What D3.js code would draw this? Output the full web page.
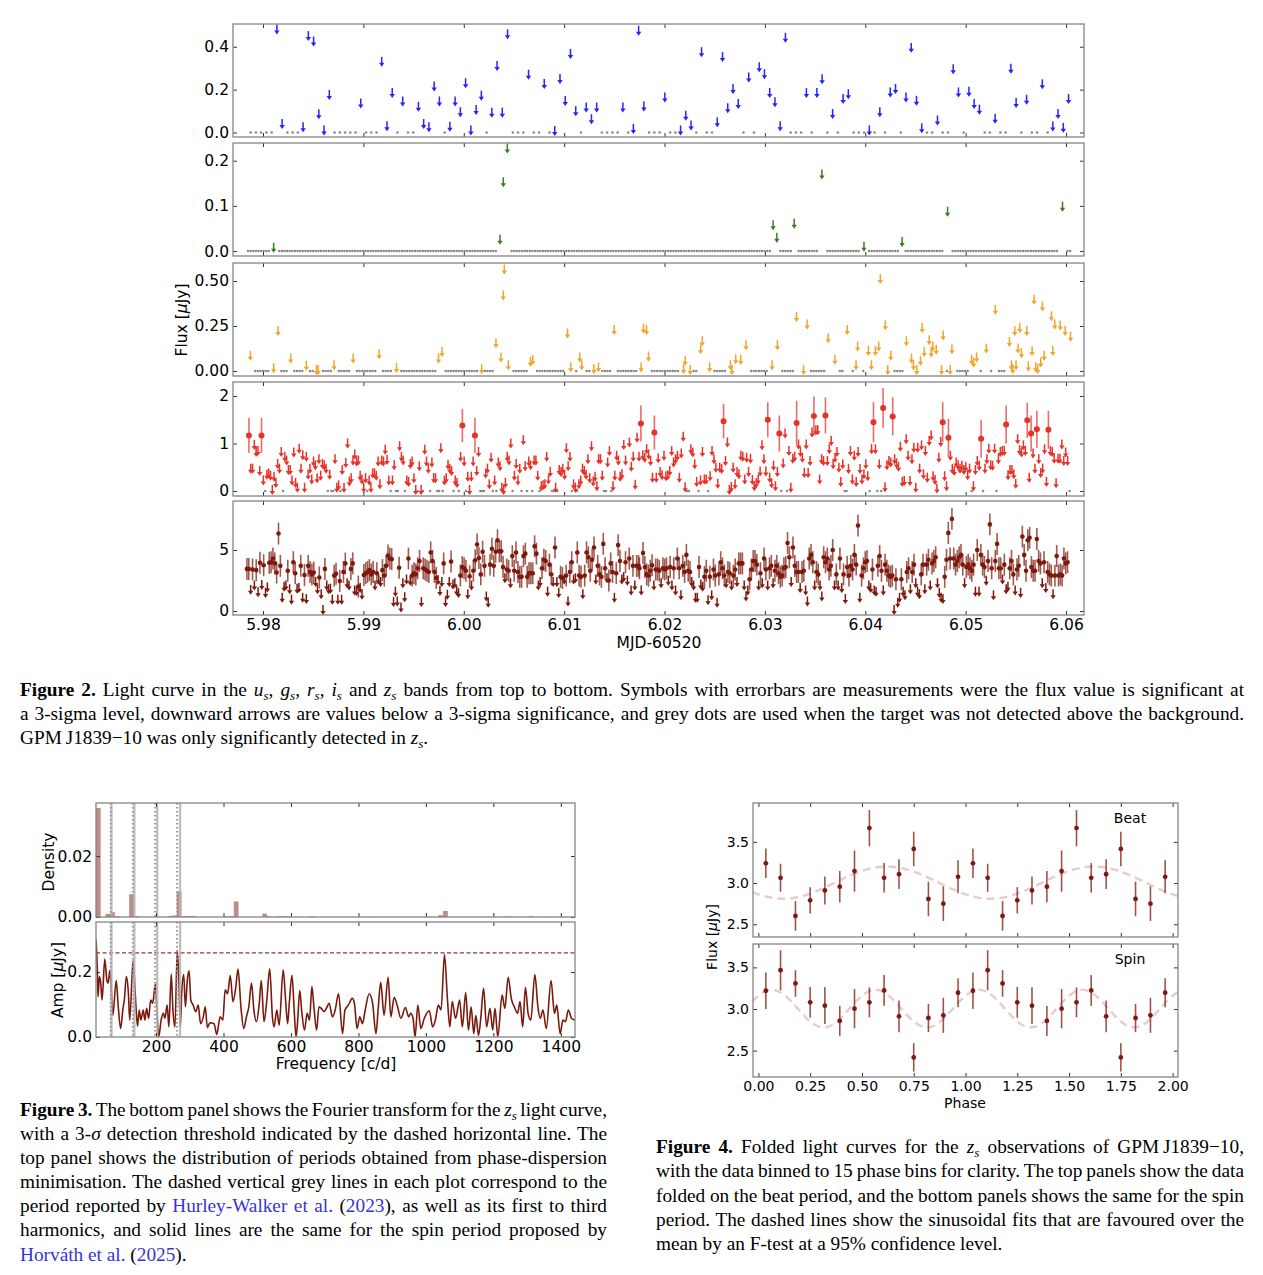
<!DOCTYPE html>
<html>
<head>
<meta charset="utf-8">
<script src="https://cdn.jsdelivr.net/npm/d3@7"></script>
<style>
  body { margin: 0; background: #fff; width: 1263px; height: 1275px; position: relative; overflow: hidden; }
  svg { position: absolute; left: 0; top: 0; }
  .cap { position: absolute; font-family: "Liberation Serif", "Times New Roman", serif; font-size: 19.3px;
         line-height: 24px; white-space: nowrap; color: #000; }
  .cap sub { font-size: 68%; vertical-align: -0.28em; line-height: 0; }
  .lk { color: #3434d6; }
</style>
</head>
<body>
<svg id="fig" width="1263" height="1275"></svg>
<script>
// ---------------- data: Figure 2 light curves ----------------
// sequence bands: one char per exposure ('.' not detected, 'v' 3-sigma upper limit, 'o' detection)
var uSpan = [5.97877, 6.06025];
var uKind = ".....vv..." + "vvvvvv...." + ".v...vvv.v" + "..vvvvv.vv" + "vvvvv.vvvv" +
            "...v..v.vv" + "vvv.vvv..." + ".v.vvv...v" + "..vvv.v..v" + "vvvv.v.vvv" +
            "vvv...v.vv" + ".v.vv...v." + "v.vv.vvvv." + ".v..vv.vvv" + "..v..vv.v." + ".v.vvvv";
var uFlux = [.476,.035, .02,.445,.42,.08,.005,.17, .13, .325,.025,.18, .14, .115,.035,.02,.21,.14,
  .022,.14, .09,.225,.005,.10,.167, .088,.305,.088,.453, .265, .222, .002,.245, .142,.362,.095,
  .112,.057,.112, .112, .012,.47,.117, .159, .005,.074,.028, .37, .043,.347,.108,.198,.128,
  .252, .30,.267,.18,.136,.025,.437, .179, .179,.244, .082, .151,.174, .005, .09, .182,.198,
  .159,.39,.143,.015, .051, .29,.182, .185,.128,.102, .059, .293,.133, .148, .22, .023,.082,.017,.151];

// g_s and r_s: upper limits with their times, grey dots on the exposure grid [start, end, step]
var gGrid = [5.9785, 6.0603, 0.00026];
var gLimT = [5.98106, 6.00361, 6.00394, 6.00434, 6.03082, 6.03119, 6.03292, 6.03568, 6.03987, 6.04367, 6.04820, 6.05965];
var gLimV = [.005, .023, .150, .225, .055, .027, .058, .167, .007, .018, .085, .096];

var rGrid = [5.97844, 6.0604, 0.00026];
var rLimT = [5.97874, 5.98106, 5.98150, 5.98276, 5.98432, 5.98532, 5.98549, 5.98708, 5.98898, 5.99157,
  5.99330, 5.99749, 5.99783, 6.00178, 6.00321, 6.00371, 6.00394, 6.00404, 6.00444, 6.00664,
  6.00687, 6.01033, 6.01066, 6.01156, 6.01176, 6.01296, 6.01342, 6.01499, 6.01767, 6.01790,
  6.01820, 6.01840, 6.02190, 6.02206, 6.02256, 6.02360, 6.02376, 6.02449, 6.02656, 6.02672,
  6.02709, 6.02759, 6.02812, 6.03072, 6.03125, 6.03315, 6.03385, 6.03421, 6.03631, 6.03698,
  6.03821, 6.03908, 6.03924, 6.04031, 6.04061, 6.04101, 6.04134, 6.04150, 6.04200, 6.04224,
  6.04254, 6.04410, 6.04460, 6.04480, 6.04513, 6.04550, 6.04567, 6.04587, 6.04637, 6.04657,
  6.04673, 6.04707, 6.04760, 6.04776, 6.04846, 6.04863, 6.05059, 6.05079, 6.05109, 6.05206,
  6.05296, 6.05436, 6.05456, 6.05469, 6.05489, 6.05502, 6.05522, 6.05539, 6.05555, 6.05609,
  6.05625, 6.05662, 6.05682, 6.05698, 6.05718, 6.05748, 6.05765, 6.05782, 6.05855, 6.05868,
  6.05888, 6.05942, 6.05991, 6.06045];
var rLimV = [.079, .010, .216, .064, .024, .000, .000, .027, .064, .088,
  .011, .064, .100, .005, .148, .070, .414, .559, .027, .046,
  .055, .203, .015, .070, .027, .005, .015, .222, .015, .230,
  .222, .075, .005, .051, .000, .115, .160, .015, .027, .000,
  .060, .055, .137, .027, .137, .295, .000, .253, .176, .057,
  .222, .027, .130, .106, .027, .106, .130, .505, .249, .000,
  .079, .160, .064, .027, .000, .051, .234, .100, .165, .097,
  .130, .112, .000, .192, .000, .115, .057, .042, .070, .119,
  .335, .156, .027, .005, .216, .027, .119, .234, .093, .216,
  .020, .106, .390, .015, .005, .042, .353, .079, .299, .106,
  .253, .247, .216, .185];

// i_s: two stretches read separately
var iSpanA = [5.97860, 6.01612];
var iKindA = "ovvvvvvov." + "vvvvvvvvv." + "vvvvvvvvvv" + "vvvvvvvvvv" + "vvvv.v..vv" +
             "v.vvvvvvvv" + "vvvvvv.vvv" + "vvvvvvvvv." + "vv..vvv.vv" + "vvvv.vv.vv" +
             "v.vvv..v.v" + "vvvv.vv.vo" + "v.vvvvovv." + "..vvvv.v.v" + "vvvvvvv.vv" +
             "vv.vv.vv.v" + "vv.vvvvvv." + ".v.vvvvvvv" + ".vv.vvvvvv" + "vvvvvvvv.." +
             "vv.vvvvvvv" + "v";
var iFluxA = [1.17,.45,.45,.95,.80,.82,.40,1.17,.20, .32,.35,.30,.00,.28,.15,.55,.45,.80,
  .70,.62,.42,.42,.20,.79,.15,.05,.87,.45, .73,.05,.70,.32,.45,.22,.60,.52,.25,.65,
  .30,.55,.52,.45,.32,.65,.05, .10,.42,.05,.57,.98,.18,.25,.62,.75, .60,.62,.30,.22,.05,.25,.20,.05,.35,
  .35,.30,.60,.12,.62,.60,.85,.63,.20, .20,.52,.92,.70,.62,.20,.17, .55,.60,.25,.00,.50,.00,.85,.60,
  .45,.58,.25,.25,.88,.20, .25,.53,.45,.40,.20,.15,.70,1.38, .60,.28,.00,.28,.60,1.17,.40,.80,
  .35,.45,.12,.68,.20,.58, .50,.05,.00,.15,.70,.62,.98,.30,.55, .20,.45,1.05,.50,.60,.52,.62,
  .62,.30,.08,.10,.12,.70,.22,.38, .05,.42,.38,.45,.32,.88,.50,.70, .12,.05,.12,.20,.45,.40,.32,.65,
  .25,.92,.18,.28,.08,.65,.65,.30, .58,.82,.08,.30,.72,.62,.28,.33,.95, .62];
var iErrA = [.37, .37, .35, .37];

var iSpanB = [6.01650, 6.06035];
var iKindB = "vvvvvvovvv" + "vvvovvvvvv" + "vvvvvvvvvv" + "..vvvv.vvv" + "v.vvvvvvvo" +
             "vvvvvvvvvv" + "vvvvvvvvvv" + "vvovvvvvo." + "vv.vvvvovv" + "vvvvvvovvv" +
             "vvovvvvvvv" + "vv..vvvvvv" + "vvvvv.vov." + "v.ovvvvovv" + "vvvvvvvvvv" +
             "vvvvvvvvvv" + "vvvovvovvv" + "vvvvvvvv.v" + "vvvo.vvvvv" + "v.vvvvovvv" +
             "vvvvvvvovo" + "vvovvvvvov" + "vvvvvvvvv.";
var iFluxB = [1.00,.49,.70,.11,1.10,.70,1.42,.73,.68,.86, .75,.61,.26,1.23,.26,.67,.38,.31,.72,.29,
  .31,.40,.82,.58,.65,.72,.26,.77,1.12,.06, .86,.79,.54,.17,.20,.80,.22, .22,.29,.82,.65,.47,.13,.47,.44,1.47,
  .61,1.00,.00,.06,.47,.12,.38,.33,.72,.70, .22,.68,.38,.66,.21,.08,.14,.22,.39,.94,
  .65,.39,1.50,.26,.14,.51,.08,.38,1.21, .56,1.19,.82,.05,.66,.70,1.43,.96,.80,
  .68,.36,.96,.36,.61,1.21,1.58,1.26,1.26,.22, .65,.61,1.59,.61,.86,1.03,.54,.68,.80,.47,
  .17,.54,.44,.82,.22,.72,.17,.80, .44,.22,.33,.54,.29,.86,1.45,.86, .54,1.75,.06,.52,.61,.58,1.57,.65,.56,
  .49,.91,.17,.19,1.07,.72,.19,.65,.89,.05, .89,.45,.94,.33,.82,.26,1.03,1.15,.29,.21,
  .03,.68,1.01,1.45,.29,.08,1.12,.72,.44,.40, .58,.52,.45,.51,.42,.49,.31,.45,.08,
  .42,.61,.51,1.10,.45,.65,.87,.52,.51, .87,.65,.80,.82,.82,1.40,.31,.42,.42,
  .33,.13,1.07,.84,.79,.94,.82,1.49,.26,1.21, .77,.45,1.30,.65,.36,.45,.86,.17,1.29,.82,
  .80,.66,.14,.66,.66,.96,.61,.79,.61];
var iErrB = [.38, .36, .36, .37, .38, .47, .41, .38, .42, .42, .40, .42, .40, .40, .40, .37, .38, .39, .40];

// z_s: two stretches read separately, typical 1-sigma error
var zErr = 0.9;
var zSpanA = [5.97840, 6.01741];
var zKindA = "oovovovovo" + "vvooooooov" + "vvovvoovvo" + "vovoooovvo" + "vvovvvvoov" +
             "ovoovvoovv" + "ovvoooooov" + "ovvoooooov" + "vvovvvvovo" + "oooovooooo" +
             "ooovvvovvv" + "ovvvvoooov" + "ovooooooov" + "voooooooov" + "oovooooooo" +
             "ooooooovvo" + "oovoovovvo" + "ovovoovvoo" + "ovoooooovo" + "oooovooovo" +
             "oovvovovov" + "oo";
var zFluxA = [3.45,3.45,1.65,3.4,2.0,3.35,1.45,3.95,2.05,3.75, 1.4,1.85,3.95,4.0,4.3,3.9,3.15,6.35,3.7,1.0,
  1.9,2.0,3.3,1.7,0.85,4.0,3.1,1.75,1.8,3.7, 1.0,2.95,0.9,3.7,3.2,3.0,3.15,2.3,1.7,2.75,
  1.3,0.0,3.45,2.0,1.7,1.75,0.85,2.9,3.05,0.85, 2.45,0.85,3.2,3.9,2.2,2.0,3.45,3.9,1.6,1.55,
  2.0,1.8,1.25,2.95,3.1,3.2,3.35,3.0,3.2,2.0, 3.1,2.5,2.3,3.35,2.9,3.7,4.55,4.3,4.25,0.65,
  1.5,0.7,3.55,0.2,2.2,1.05,2.5,4.3,2.4,2.9, 3.1,3.0,3.5,4.1,0.65,3.5,3.4,3.3,3.2,4.8,
  4.1,3.2,2.7,2.45,1.55,2.3,3.9,0.65,1.25,2.3, 4.05,2.1,2.2,1.6,1.4,2.9,3.6,3.5,3.3,1.3,
  2.85,2.0,3.3,4.15,5.45,4.35,3.0,4.85,3.7,1.1, 0.6,3.8,5.1,3.7,4.85,5.8,4.9,4.9,3.6,2.6,
  3.4,3.3,2.2,4.5,3.3,4.8,3.2,2.8,2.8,4.5, 4.7,2.8,3.1,3.1,3.1,5.3,4.7,2.0,2.3,3.5,
  4.2,4.1,1.5,3.8,3.0,2.3,5.2,2.3,1.4,2.8, 2.7,2.5,2.9,0.7,3.2,4.0,2.5,2.6,4.8,2.9,
  2.8,1.3,2.9,4.8,4.4,3.3,4.2,5.2,2.5,3.7, 3.0,2.8,5.5,3.5,2.6,2.5,3.9,3.2,1.0,3.1,
  5.4,4.1,2.5,2.7,4.0,2.4,4.3,1.6,3.7,2.0, 3.7,3.7];

var zSpanB = [6.01750, 6.06015];
var zKindB = "ovoooooovo" + "oovooovovo" + "voovooooov" + "vvvovvoovo" + "voovoooovo" +
             "ovoovooovv" + "vooooovovo" + "ovoovooooo" + "oooovoooov" + "oovvooovoo" +
             "vvoooooovo" + "vovovooooo" + "oovoooovvo" + "vvooovoooo" + "ovovvovvoo" +
             "voovvvoovo" + "ovooovvvvo" + "oooooooooo" + "vooooovovo" + "oovooovooo" +
             "ovovvooovo" + "ovoooooooo" + "ooovovooov" + "oooooooo";
var zFluxB = [3.5,1.6,4.75,3.6,3.0,2.9,3.3,3.75,2.0,3.4, 3.4,3.3,2.2,3.5,3.4,3.5,2.4,3.6,2.0,3.5,
  1.6,4.3,3.5,1.2,3.7,3.2,4.6,3.3,3.2,2.3, 2.0,1.0,1.0,3.6,2.1,1.9,2.8,3.3,0.8,2.8,
  1.2,3.4,2.9,0.6,3.0,4.0,3.5,2.9,2.2,3.2, 3.1,2.0,2.9,3.4,2.3,3.9,3.9,3.9,2.0,1.1,
  1.6,2.6,3.4,4.1,4.1,3.8,2.0,3.1,2.2,4.3, 3.4,2.0,3.5,3.7,2.2,3.3,3.7,3.1,2.8,2.9,
  3.5,3.6,5.57,4.4,2.3,5.2,3.7,3.2,3.2,1.8, 3.2,3.3,1.6,0.7,4.3,4.6,4.0,2.0,3.2,3.0,
  2.0,1.1,4.4,4.0,4.3,3.4,3.7,5.0,2.0,3.0, 2.0,4.3,1.8,3.0,0.9,3.6,2.9,3.7,3.4,4.6,
  3.8,7.0,1.0,2.9,3.5,4.0,4.1,2.0,1.8,3.4, 1.6,1.5,3.7,4.5,3.3,1.6,3.8,3.3,2.9,2.8,
  2.9,0.0,2.6,0.6,1.0,2.6,1.5,1.2,3.2,3.5, 1.7,3.2,3.8,2.2,1.5,1.3,3.0,3.8,1.7,3.8,
  4.2,2.0,3.9,4.1,4.4,2.2,1.4,1.0,0.9,2.8, 4.2,6.4,4.3,7.55,4.3,3.8,4.1,4.4,4.6,3.8,
  2.2,3.6,3.8,3.5,3.3,3.8,1.5,5.0,1.5,4.6, 3.8,3.6,2.4,4.1,7.1,3.5,1.2,4.1,5.5,3.5,
  3.5,2.5,3.8,1.7,1.9,3.5,4.1,3.0,1.6,3.4, 3.7,1.4,6.1,4.6,3.3,5.8,6.0,3.6,3.3,3.3,
  5.9,4.1,3.9,2.2,4.0,1.8,3.2,3.0,2.9,1.3, 2.9,4.5,2.9,3.0,2.9,4.3,3.9,4.0];

var lcTicks = [5.98, 5.99, 6.00, 6.01, 6.02, 6.03, 6.04, 6.05, 6.06];

// ---------------- data: Figure 3 ----------------
var pdmStart = 21.6, pdmWidth = 14.1;   // histogram bins [c/d]
var pdmDensity = [
  .0358, 0, .0010, .0016, .0003, 0, 0, .0075, .0003, 0,
  0, 0, 0, 0, 0, .0003, .0005, .0084, .0003, .0003,
  .0003, 0, 0, 0, 0, 0, 0, .0002, .0003, .0051,
  0, 0, 0, 0, 0, .0011, .0002, 0, .0002, .0002,
  .0002, 0, 0, 0, 0, .0002, 0, 0, 0, 0,
  0, 0, 0, 0, 0, 0, 0, .0001, 0, 0,
  0, 0, 0, 0, 0, 0, 0, 0, 0, 0,
  0, 0, .0006, .0020, 0, 0, 0, 0, 0, 0,
  0, 0, 0, 0, 0, 0, .0002, .0001, 0, 0,
  0, .0003, 0, 0, 0, .0001, 0, 0, 0, 0, 0];
var specFreq = [22,26,28,32,36,40,48,54,58,63, 68,72,82,88,95,102,106,112,118,122,
  132,138,145,150,155,162,167,172,178,184, 190,198,203,208,215,222,226,233,238,245,
  250,256,263,268,272,276,282,287,293,298, 303,310,318,325,332,340,346,352,360,372,
  380,390,398,405,412,420,428,436,443,452, 460,468,475,483,490,498,506,512,520,528,
  537,545,550,558,565,577,584,590,595,603, 610,615,620,626,632,640,648,655,662,668,
  676,683,690,698,705,713,723,731,741,753, 760,770,782,788,796,804,812,820,832,842,
  852,859,866,876,888,896,906,916,926,939, 949,955,962,968,976,985,995,1010,1020,1028,
  1037,1045,1055,1064,1071,1078,1088,1100,1108,1118, 1126,1134,1142,1148,1156,1163,1171,1180,1190,1198,
  1205,1213,1226,1234,1244,1253,1262,1272,1279,1287, 1295,1303,1311,1323,1332,1339,1347,1357,1371,1381,
  1388,1398,1406,1414,1422,1432,1442];
var specAmp = [.300,.207,.124,.186,.166,.114,.240,.176,.166,.205, .135,.067,.174,.093,.026,.088,.114,.186,.135,.052,
  .236,.140,.033,.083,.052,.083,.052,.088,.057,.114, .104,.163,.073,.000,.052,.073,.057,.098,.031,.194,
  .083,.031,.267,.166,.031,.135,.192,.093,.178,.204, .114,.098,.078,.098,.041,.062,.093,.029,.044,.041,
  .008,.062,.052,.145,.133,.189,.109,.150,.209,.088, .026,.062,.093,.166,.083,.047,.104,.174,.047,.109,
  .210,.062,.031,.083,.036,.207,.114,.041,.104,.190, .073,.000,.052,.143,.078,.021,.073,.052,.155,.093,
  .021,.093,.088,.078,.088,.104,.062,.083,.133,.010, .083,.098,.119,.104,.026,.062,.041,.083,.133,.104,
  .010,.093,.168,.067,.184,.062,.122,.093,.057,.091, .062,.073,.057,.000,.098,.026,.057,.081,.031,.052,
  .098,.083,.254,.114,.031,.109,.057,.114,.031,.137, .021,.093,.010,.067,.005,.062,.150,.031,.088,.021,
  .088,.000,.129,.088,.184,.119,.093,.073,.109,.031, .153,.073,.052,.192,.093,.057,.083,.026,.174,.073,
  .098,.010,.052,.047,.083,.057,.052];
var specThreshold = 0.259;
var hwFreqs = [65.6, 131.1, 196.7, 262.2];     // Hurley-Walker et al. (2023) and harmonics
var spinFreqs = [67.8, 135.6, 203.4, 271.2];   // Horvath et al. (2025) and harmonics

// ---------------- data: Figure 4 ----------------
var foldPhase = [0.036, 0.107, 0.179, 0.250, 0.321, 0.393, 0.464, 0.536, 0.607, 0.679, 0.750, 0.821, 0.893, 0.964];
var beatFlux = [3.24, 3.064, 2.60, 2.79, 2.91, 2.956, 3.145, 3.667, 3.064, 3.108, 3.414, 2.807, 2.75, 3.076];
var beatErr  = [0.18, 0.17, 0.18, 0.16, 0.17, 0.19, 0.25, 0.22, 0.18, 0.18, 0.21, 0.21, 0.21, 0.20];
var spinFlux = [3.219, 3.466, 3.307, 3.08, 3.04, 2.857, 3.004, 3.08, 3.223, 2.912, 2.418, 2.892, 2.924, 3.195];
var spinErr  = [0.22, 0.24, 0.16, 0.185, 0.22, 0.18, 0.235, 0.18, 0.185, 0.19, 0.17, 0.17, 0.21, 0.175];
var beatFit = { mean: 3.005, amp: 0.195, peak: 0.62, harm: 1 };
var spinFit = { mean: 3.005, amp: 0.225, peak: 0.065, harm: 2 };

// ---------------- drawing ----------------
var FONT = "DejaVu Sans, sans-serif";
var svg = d3.select("#fig");

function makePanel(xs, ys, xDom, yDom) {
  var p = {};
  p.box = [xs[0], xs[1], ys[0], ys[1]];
  p.x = d3.scaleLinear().domain(xDom).range(xs);
  p.y = d3.scaleLinear().domain(yDom).range([ys[1], ys[0]]);
  p.g = svg.append("g");
  var id = "clip" + Math.round(xs[0]) + "_" + Math.round(ys[0]);
  svg.append("clipPath").attr("id", id).append("rect")
    .attr("x", xs[0]).attr("y", ys[0]).attr("width", xs[1] - xs[0]).attr("height", ys[1] - ys[0]);
  p.clip = "url(#" + id + ")";
  return p;
}

function tidy(a, fs, keepText) {
  a.select(".domain").remove();
  a.selectAll(".tick line").attr("stroke", "#333").attr("stroke-width", 1);
  if (keepText) a.selectAll(".tick text").attr("font-family", FONT).attr("font-size", fs).attr("fill", "#000");
  else a.selectAll(".tick text").remove();
}

function frame(p, o) {
  var b = p.box, g = p.g.append("g");
  tidy(g.append("g").attr("transform", "translate(" + b[0] + ",0)")
    .call(d3.axisLeft(p.y).tickValues(o.yTicks).tickFormat(d3.format(o.yFmt)).tickSize(-4).tickPadding(4)), o.fs, true);
  tidy(g.append("g").attr("transform", "translate(" + b[1] + ",0)")
    .call(d3.axisRight(p.y).tickValues(o.yTicks).tickSize(-4)), o.fs, false);
  tidy(g.append("g").attr("transform", "translate(0," + b[2] + ")")
    .call(d3.axisTop(p.x).tickValues(o.xTicks).tickSize(-4)), o.fs, false);
  tidy(g.append("g").attr("transform", "translate(0," + b[3] + ")")
    .call(d3.axisBottom(p.x).tickValues(o.xTicks).tickFormat(d3.format(o.xFmt || ".2f")).tickSize(-4).tickPadding(4)),
    o.fs, !!o.xLabels);
  g.append("rect").attr("x", b[0]).attr("y", b[2]).attr("width", b[1] - b[0]).attr("height", b[3] - b[2])
    .attr("fill", "none").attr("stroke", "#858585").attr("stroke-width", 1.3);
}

function label(x, y, txt, fs, rot, italicMu) {
  var t = svg.append("text").attr("font-family", FONT).attr("font-size", fs).attr("fill", "#000")
    .attr("text-anchor", "middle").attr("dominant-baseline", "central")
    .attr("transform", "translate(" + x + "," + y + ")" + (rot ? " rotate(-90)" : ""));
  if (italicMu) {
    var parts = txt.split("μ");
    t.append("tspan").text(parts[0]);
    t.append("tspan").attr("font-style", "italic").text("μ");
    t.append("tspan").text(parts[1]);
  } else t.text(txt);
  return t;
}

function expandSeq(kind, flux, errs, span) {
  var pts = [], k = 0, j = 0, n = kind.length;
  for (var i = 0; i < n; i++) {
    var t = span[0] + (span[1] - span[0]) * i / (n - 1), c = kind[i];
    if (c === "." || k >= flux.length) { pts.push({ t: t, v: 0, kind: "nd" }); continue; }
    var v = flux[k++];
    if (c === "v") pts.push({ t: t, v: v, kind: "lim" });
    else pts.push({ t: t, v: v, e: Array.isArray(errs) ? errs[j++] : errs, kind: "det" });
  }
  return pts;
}

function expandSparse(limT, limV, grid) {
  var pts = limT.map(function (t, i) { return { t: t, v: limV[i], kind: "lim" }; });
  var n = Math.round((grid[1] - grid[0]) / grid[2]) + 1;
  for (var i = 0; i < n; i++) {
    var t = grid[0] + i * grid[2];
    if (!limT.some(function (s) { return Math.abs(s - t) < 1.2 * grid[2]; })) pts.push({ t: t, v: 0, kind: "nd" });
  }
  return pts;
}

var lcBands = [
  { pts: expandSeq(uKind, uFlux, 0, uSpan), color: "#2424ff", ys: [24, 137], yDom: [-0.021, 0.506], ticks: [0, 0.2, 0.4], fmt: ".1f", r: 2.3 },
  { pts: expandSparse(gLimT, gLimV, gGrid), color: "#3a7d1f", ys: [143, 256], yDom: [-0.011, 0.2392], ticks: [0, 0.1, 0.2], fmt: ".1f", r: 2.3 },
  { pts: expandSparse(rLimT, rLimV, rGrid), color: "#f2a42c", ys: [263, 376], yDom: [-0.0278, 0.6], ticks: [0, 0.25, 0.5], fmt: ".2f", r: 2.3 },
  { pts: expandSeq(iKindA, iFluxA, iErrA, iSpanA).concat(expandSeq(iKindB, iFluxB, iErrB, iSpanB)),
    color: "#e5332a", ys: [382, 496], yDom: [-0.105, 2.295], ticks: [0, 1, 2], fmt: "d", r: 3.0 },
  { pts: expandSeq(zKindA, zFluxA, zErr, zSpanA).concat(expandSeq(zKindB, zFluxB, zErr, zSpanB)),
    color: "#7d1a0d", ys: [501, 615], yDom: [-0.328, 9.016], ticks: [0, 5], fmt: "d", r: 2.3 }
];

lcBands.forEach(function (b, bi) {
  var p = makePanel([233, 1084], b.ys, [5.97701, 6.06179], b.yDom);
  var d = p.g.append("g").attr("clip-path", p.clip);
  var nd = b.pts.filter(function (q) { return q.kind === "nd"; });
  var lim = b.pts.filter(function (q) { return q.kind === "lim"; });
  var det = b.pts.filter(function (q) { return q.kind === "det"; });
  d.selectAll("circle.nd").data(nd).enter().append("circle").attr("class", "nd")
    .attr("cx", function (q) { return p.x(q.t); }).attr("cy", function (q) { return p.y(0); })
    .attr("r", 1.25).attr("fill", "#878787");
  d.selectAll("path.lim").data(lim).enter().append("path").attr("class", "lim")
    .attr("d", function (q) {
      var x = p.x(q.t), y = p.y(q.v);
      return "M" + x + "," + (y - 6) + "V" + (y + 1);
    })
    .attr("stroke", b.color).attr("stroke-width", 1.5).attr("fill", "none");
  d.selectAll("path.head").data(lim).enter().append("path").attr("class", "head")
    .attr("d", function (q) {
      var x = p.x(q.t), y = p.y(q.v);
      return "M" + (x - 2.7) + "," + y + "L" + (x + 2.7) + "," + y + "L" + x + "," + (y + 4) + "Z";
    })
    .attr("fill", b.color);
  d.selectAll("line.err").data(det).enter().append("line").attr("class", "err")
    .attr("x1", function (q) { return p.x(q.t); }).attr("x2", function (q) { return p.x(q.t); })
    .attr("y1", function (q) { return p.y(q.v - q.e); }).attr("y2", function (q) { return p.y(q.v + q.e); })
    .attr("stroke", b.color).attr("stroke-opacity", 0.72).attr("stroke-width", 1.6);
  d.selectAll("circle.det").data(det).enter().append("circle").attr("class", "det")
    .attr("cx", function (q) { return p.x(q.t); }).attr("cy", function (q) { return p.y(q.v); })
    .attr("r", b.r).attr("fill", b.color);
  frame(p, { xTicks: lcTicks, yTicks: b.ticks, yFmt: b.fmt, xFmt: ".2f", xLabels: bi === lcBands.length - 1, fs: 15.5 });
});
label(182, 320, "Flux [μJy]", 15.5, true, true);
label(659, 643, "MJD-60520", 15.5, false);

// Figure 3
var f3Top = makePanel([96, 575], [803, 917], [22, 1442], [0, 0.0374]);
var f3Bot = makePanel([96, 575], [922, 1037], [22, 1442], [0, 0.354]);
var f3Ticks = [200, 400, 600, 800, 1000, 1200, 1400];
var hg = f3Top.g.append("g").attr("clip-path", f3Top.clip);
hg.selectAll("rect").data(pdmDensity.map(function (v, i) { return { f0: pdmStart + i * pdmWidth, v: v }; })
    .filter(function (b) { return b.v > 0; }))
  .enter().append("rect")
  .attr("x", function (b) { return f3Top.x(b.f0); })
  .attr("width", function (b) { return f3Top.x(b.f0 + pdmWidth) - f3Top.x(b.f0); })
  .attr("y", function (b) { return f3Top.y(b.v); })
  .attr("height", function (b) { return f3Top.y(0) - f3Top.y(b.v); })
  .attr("fill", "#7f1a10").attr("fill-opacity", 0.5);
var sg = f3Bot.g.append("g").attr("clip-path", f3Bot.clip);
sg.append("path").datum(d3.zip(specFreq, specAmp))
  .attr("d", d3.line().x(function (d) { return f3Bot.x(d[0]); }).y(function (d) { return f3Bot.y(d[1]); }).curve(d3.curveMonotoneX))
  .attr("fill", "none").attr("stroke", "#7a1a0c").attr("stroke-width", 1.6);
sg.append("line").attr("x1", 96).attr("x2", 575).attr("y1", f3Bot.y(specThreshold)).attr("y2", f3Bot.y(specThreshold))
  .attr("stroke", "#9a3030").attr("stroke-width", 1.2).attr("stroke-dasharray", "4,2.5");
[f3Top, f3Bot].forEach(function (p) {
  p.g.selectAll("line.spin").data(spinFreqs).enter().append("line").attr("class", "spin")
    .attr("x1", function (f) { return p.x(f); }).attr("x2", function (f) { return p.x(f); })
    .attr("y1", p.box[2]).attr("y2", p.box[3]).attr("stroke", "#b4b4b4").attr("stroke-width", 2.4).attr("stroke-opacity", 0.85);
  p.g.selectAll("line.hw").data(hwFreqs).enter().append("line").attr("class", "hw")
    .attr("x1", function (f) { return p.x(f); }).attr("x2", function (f) { return p.x(f); })
    .attr("y1", p.box[2]).attr("y2", p.box[3]).attr("stroke", "#9a9a9a").attr("stroke-width", 2).attr("stroke-dasharray", "1.6,2.4");
});
frame(f3Top, { xTicks: f3Ticks, yTicks: [0, 0.02], yFmt: ".2f", xLabels: false, fs: 15.5 });
frame(f3Bot, { xTicks: f3Ticks, yTicks: [0, 0.2], yFmt: ".1f", xFmt: "d", xLabels: true, fs: 15.5 });
label(49, 862, "Density", 15.5, true);
label(58, 980, "Amp [μJy]", 15.5, true, true);
label(336, 1064, "Frequency [c/d]", 15.5, false);

// Figure 4
var f4Top = makePanel([753, 1178], [803, 937], [-0.026, 2.026], [2.345, 3.972]);
var f4Bot = makePanel([753, 1178], [944, 1077], [-0.026, 2.026], [2.183, 3.781]);
var f4Ticks = [0, 0.25, 0.5, 0.75, 1.0, 1.25, 1.5, 1.75, 2.0];
function foldPanel(p, flux, err, fit, name) {
  var d = p.g.append("g").attr("clip-path", p.clip);
  var grid = d3.range(-0.03, 2.035, 0.005);
  d.append("path").datum(grid)
    .attr("d", d3.line().x(function (ph) { return p.x(ph); })
      .y(function (ph) { return p.y(fit.mean + fit.amp * Math.cos(2 * Math.PI * fit.harm * (ph - fit.peak))); }))
    .attr("fill", "none").attr("stroke", "#e6cccc").attr("stroke-width", 2.4).attr("stroke-dasharray", "8,5");
  var pts = [];
  [0, 1].forEach(function (c) { foldPhase.forEach(function (ph, i) { pts.push({ ph: ph + c, v: flux[i], e: err[i] }); }); });
  d.selectAll("line.e").data(pts).enter().append("line").attr("class", "e")
    .attr("x1", function (q) { return p.x(q.ph); }).attr("x2", function (q) { return p.x(q.ph); })
    .attr("y1", function (q) { return p.y(q.v - q.e); }).attr("y2", function (q) { return p.y(q.v + q.e); })
    .attr("stroke", "#7d1a0d").attr("stroke-opacity", 0.75).attr("stroke-width", 1.6);
  d.selectAll("circle").data(pts).enter().append("circle")
    .attr("cx", function (q) { return p.x(q.ph); }).attr("cy", function (q) { return p.y(q.v); })
    .attr("r", 2.4).attr("fill", "#7d1a0d");
  p.g.append("text").attr("x", 1130).attr("y", p.box[2] + 20).attr("text-anchor", "middle")
    .attr("font-family", FONT).attr("font-size", 14).text(name);
}
foldPanel(f4Top, beatFlux, beatErr, beatFit, "Beat");
foldPanel(f4Bot, spinFlux, spinErr, spinFit, "Spin");
frame(f4Top, { xTicks: f4Ticks, yTicks: [2.5, 3.0, 3.5], yFmt: ".1f", xLabels: false, fs: 14 });
frame(f4Bot, { xTicks: f4Ticks, yTicks: [2.5, 3.0, 3.5], yFmt: ".1f", xFmt: ".2f", xLabels: true, fs: 14 });
label(712, 937, "Flux [μJy]", 14, true, true);
label(965, 1103, "Phase", 14, false);

// ---------------- captions ----------------
var zs = "<i>z<sub>s</sub></i>";
var capLines = [
  [20, 1224, 690, true, "<b>Figure 2.</b> Light curve in the <i>u<sub>s</sub></i>, <i>g<sub>s</sub></i>, <i>r<sub>s</sub></i>, <i>i<sub>s</sub></i> and " + zs + " bands from top to bottom. Symbols with errorbars are measurements were the flux value is significant at"],
  [20, 1224, 714, true, "a 3-sigma level, downward arrows are values below a 3-sigma significance, and grey dots are used when the target was not detected above the background."],
  [20, 1224, 738, false, "GPM&#8201;J1839&minus;10 was only significantly detected in " + zs + "."],
  [20, 587, 1110, true, "<b>Figure 3.</b> The bottom panel shows the Fourier transform for the " + zs + " light curve,"],
  [20, 587, 1134, true, "with a 3-<i>σ</i> detection threshold indicated by the dashed horizontal line. The"],
  [20, 587, 1158, true, "top panel shows the distribution of periods obtained from phase-dispersion"],
  [20, 587, 1182, true, "minimisation. The dashed vertical grey lines in each plot correspond to the"],
  [20, 587, 1206, true, "period reported by <span class=\"lk\">Hurley-Walker et al.</span> (<span class=\"lk\">2023</span>), as well as its first to third"],
  [20, 587, 1230, true, "harmonics, and solid lines are the same for the spin period proposed by"],
  [20, 587, 1255, false, "<span class=\"lk\">Horváth et al.</span> (<span class=\"lk\">2025</span>)."],
  [656, 588, 1147, true, "<b>Figure 4.</b> Folded light curves for the " + zs + " observations of GPM&#8201;J1839&minus;10,"],
  [656, 588, 1171, true, "with the data binned to 15 phase bins for clarity. The top panels show the data"],
  [656, 588, 1196, true, "folded on the beat period, and the bottom panels shows the same for the spin"],
  [656, 588, 1220, true, "period. The dashed lines show the sinusoidal fits that are favoured over the"],
  [656, 588, 1244, false, "mean by an F-test at a 95% confidence level."]
];
capLines.forEach(function (l) {
  var d = d3.select("body").append("div").attr("class", "cap")
    .style("left", l[0] + "px").style("top", (l[2] - 12) + "px").html(l[4]);
  if (l[3]) {
    var nat = d.node().getBoundingClientRect().width;
    var nsp = (d.node().textContent.match(/ /g) || []).length;
    d.style("word-spacing", ((l[1] - nat) / nsp) + "px");
  }
});
</script>
</body>
</html>
